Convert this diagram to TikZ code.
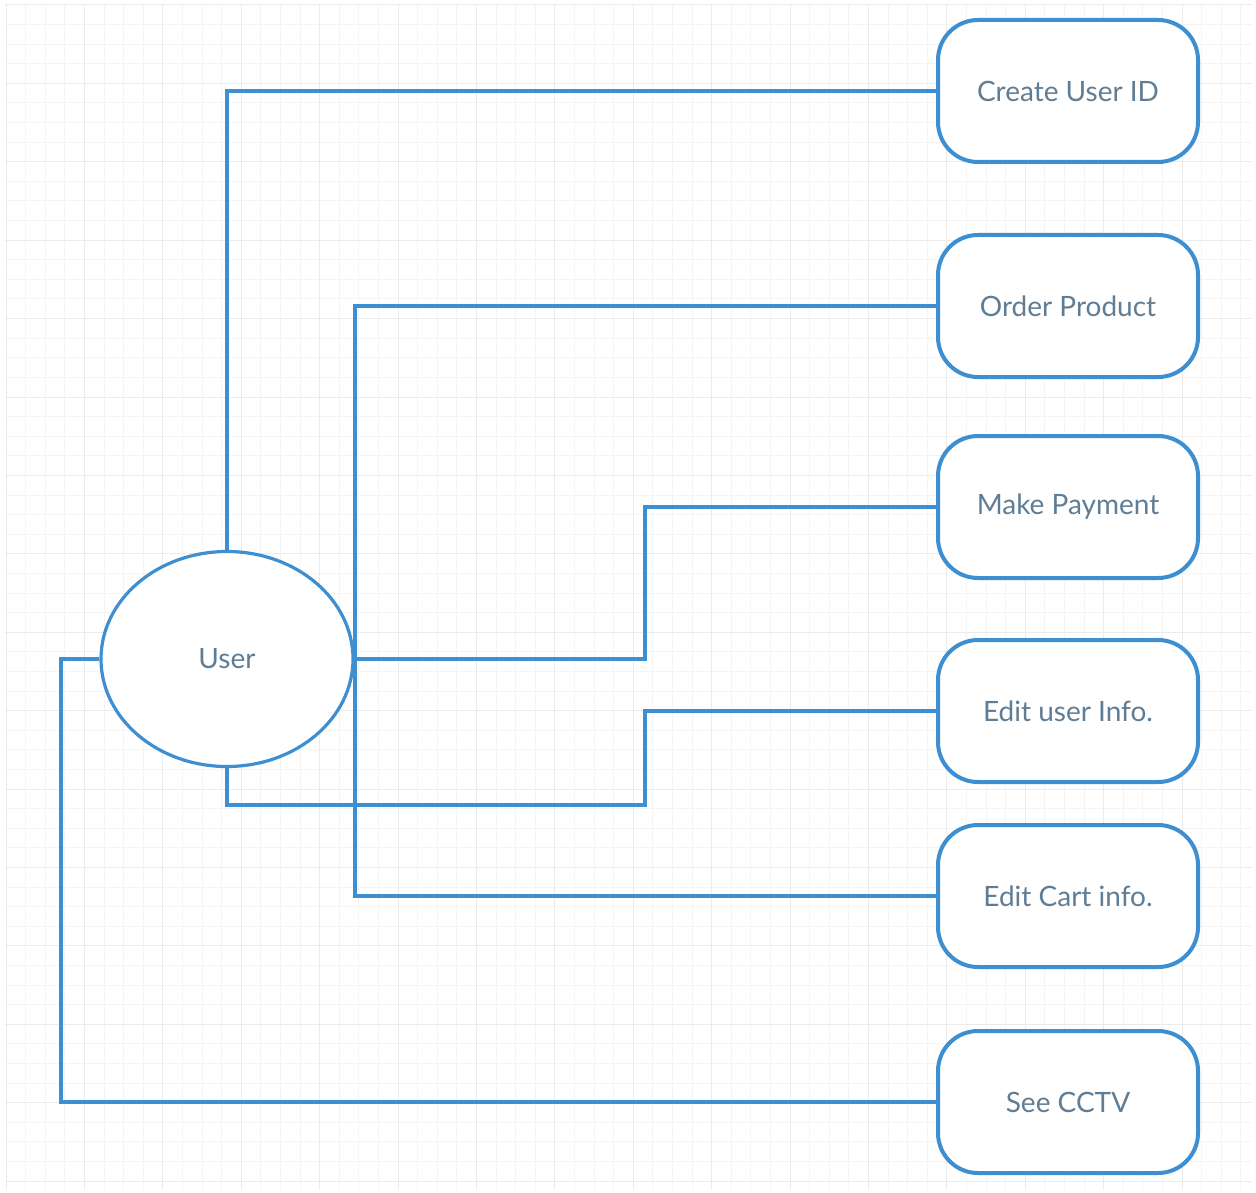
\documentclass[tikz,border=0pt]{standalone}
\usepackage{fontspec}
\setmainfont{Lato}
\usetikzlibrary{shapes.geometric}
\definecolor{lineblue}{HTML}{3D8FD1}
\definecolor{txt}{HTML}{5F7D95}
\definecolor{gridminor}{HTML}{F4F4F4}
\definecolor{gridmajor}{HTML}{EBEBEB}
\begin{document}
\begin{tikzpicture}[x=0.5pt,y=-0.5pt,
  usecase/.style={draw=lineblue, line width=2pt, rounded corners=20pt, fill=white,
    minimum width=130pt, minimum height=71pt, inner sep=0pt, text=txt,
    font=\fontsize{14}{16}\selectfont},
  actor/.style={draw=lineblue, line width=1.6pt, ellipse, fill=white,
    minimum width=126pt, minimum height=107.5pt, inner sep=0pt, text=txt,
    font=\fontsize{14}{16}\selectfont},
  conn/.style={draw=lineblue, line width=2pt}]
\useasboundingbox (0,0) rectangle (1256,1192);
\fill[white] (0,0) rectangle (1256,1192);
% grid
\foreach \i in {0,...,63} {
  \draw[gridminor, line width=0.5pt] (6+\i*19.6,5) -- (6+\i*19.6,1190);
}
\foreach \i in {0,...,60} {
  \draw[gridminor, line width=0.5pt] (5,5+\i*19.6) -- (1252,5+\i*19.6);
}
\foreach \i in {0,...,15} {
  \draw[gridmajor, line width=0.5pt] (6+\i*78.4,5) -- (6+\i*78.4,1190);
}
\foreach \i in {0,...,15} {
  \draw[gridmajor, line width=0.5pt] (5,5+\i*78.4) -- (1252,5+\i*78.4);
}
% nodes
\node[usecase] (b1) at (1068,91) {Create User ID};
\node[usecase] (b2) at (1068,306) {Order Product};
\node[usecase] (b3) at (1068,507) {Make Payment};
\node[usecase] (b4) at (1068,711) {Edit user Info.};
\node[usecase] (b5) at (1068,896) {Edit Cart info.};
\node[usecase] (b6) at (1068,1102) {See CCTV};
\coordinate (j1) at (645,0);
\coordinate (j2) at (645,805);
\coordinate (j3) at (61,0);
\node[actor] (user) at (227,659) {User};
% connectors
\draw[conn] (user.north) |- (b1.west);
\draw[conn] (user.east) |- (b2.west);
\draw[conn] (user.east) |- (b5.west);
\draw[conn] (user.east) -| (j1 |- b3.west) -- (b3.west);
\draw[conn] (user.south) |- (j2) |- (b4.west);
\draw[conn] (user.west) -| (j3 |- b6.west) -- (b6.west);
\end{tikzpicture}
\end{document}
